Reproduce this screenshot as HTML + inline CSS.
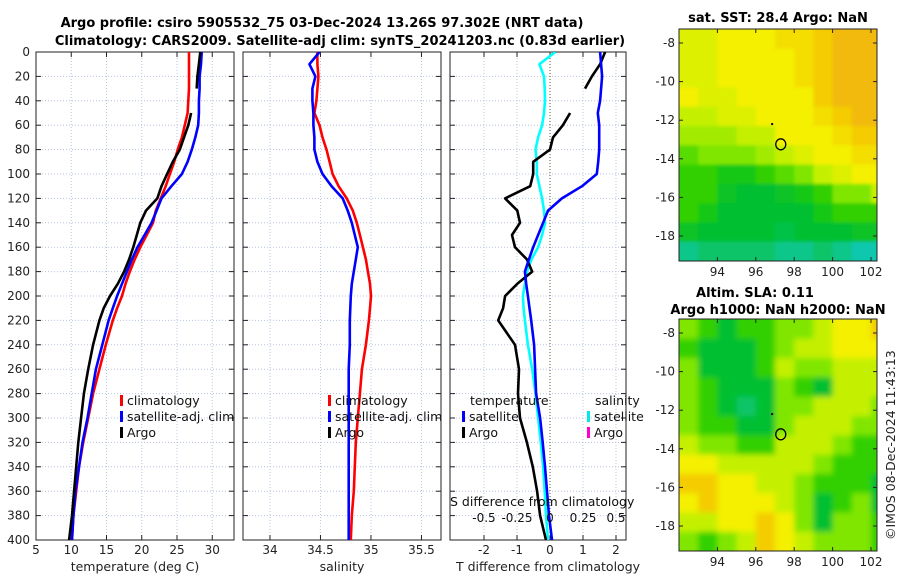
<!DOCTYPE html>
<html><head><meta charset="utf-8"><style>
body{margin:0;background:#fff}
svg{font-family:"DejaVu Sans","Liberation Sans",sans-serif;}
</style></head><body>
<svg id="c" width="900" height="580" viewBox="0 0 900 580">
<defs>
<clipPath id="cp1"><rect x="36" y="52" width="198" height="488"/></clipPath>
<clipPath id="cp2"><rect x="243" y="52" width="198" height="488"/></clipPath>
<clipPath id="cp3"><rect x="450" y="52" width="176" height="488"/></clipPath>
<clipPath id="cm1"><rect x="679" y="29" width="198" height="232"/></clipPath>
<clipPath id="cm2"><rect x="679" y="319" width="198" height="232"/></clipPath>
<filter id="bl" x="-10%" y="-10%" width="120%" height="120%"><feGaussianBlur stdDeviation="3"/></filter>
<filter id="bl1" x="-10%" y="-10%" width="120%" height="120%"><feGaussianBlur stdDeviation="1.5"/></filter>
</defs>
<text x="322" y="27" text-anchor="middle" font-size="13" font-weight="bold">Argo profile: csiro 5905532_75 03-Dec-2024 13.26S 97.302E (NRT data)</text>
<text x="340" y="45" text-anchor="middle" font-size="13" font-weight="bold">Climatology: CARS2009. Satellite-adj clim: synTS_20241203.nc (0.83d earlier)</text>
<text x="778" y="22" text-anchor="middle" font-size="13" font-weight="bold">sat. SST: 28.4 Argo: NaN</text>
<text x="755" y="297" text-anchor="middle" font-size="13" font-weight="bold">Altim. SLA: 0.11</text>
<text x="778" y="314" text-anchor="middle" font-size="13" font-weight="bold">Argo h1000: NaN h2000: NaN</text>
<text transform="translate(895,540) rotate(-90)" font-size="12.5" fill="#222">©IMOS 08-Dec-2024 11:43:13</text>
<text x="135" y="571" text-anchor="middle" font-size="12.5" fill="#222">temperature (deg C)</text>
<text x="342" y="571" text-anchor="middle" font-size="12.5" fill="#222">salinity</text>
<text x="548" y="571" text-anchor="middle" font-size="12.5" fill="#222">T difference from climatology</text>
<g id="g"></g>
</svg>
<script>
const depths=[0,10,20,30,40,50,60,70,80,90,100,110,120,130,140,150,160,170,180,190,200,210,220,240,260,280,300,320,340,360,380,400];
const climT=[26.7,26.7,26.7,26.7,26.6,26.5,26.1,25.7,25.1,24.6,24.0,23.4,22.7,22.0,21.6,20.7,19.8,19.0,18.3,17.7,17.2,16.5,15.9,14.9,14.0,13.1,12.4,11.7,11.1,10.7,10.3,10.1];
const satT=[28.5,28.4,28.2,28.2,28.1,28.1,28.0,27.6,27.1,26.5,25.7,24.2,22.8,22.1,21.4,20.4,19.4,18.6,17.9,17.2,16.5,15.9,15.3,14.4,13.5,12.9,12.3,11.6,11.1,10.6,10.3,10.1];
const argoT=[28.3,28.1,27.9,27.8,null,27.0,26.6,26.0,25.4,24.4,23.6,22.8,22.2,20.6,19.8,19.3,18.8,18.2,17.5,16.6,15.5,14.6,14.0,13.1,12.4,11.8,11.4,11.0,10.7,10.4,10.1,9.7];
const climS=[34.47,34.47,34.48,34.47,34.46,34.44,34.49,34.52,34.56,34.59,34.62,34.68,34.76,34.82,34.86,34.89,34.92,34.95,34.97,34.99,35.0,34.99,34.98,34.95,34.91,34.89,34.87,34.85,34.84,34.83,34.81,34.80];
const satS=[34.49,34.39,34.45,34.42,34.42,34.43,34.43,34.44,34.44,34.47,34.52,34.61,34.72,34.77,34.81,34.84,34.87,34.85,34.83,34.81,34.80,34.795,34.79,34.79,34.78,34.78,34.78,34.78,34.78,34.78,34.78,34.78];
const satTdiff=[1.52,1.55,1.58,1.55,1.52,1.45,1.49,1.49,1.49,1.46,1.42,0.97,0.36,-0.06,-0.21,-0.36,-0.51,-0.64,-0.76,-0.72,-0.67,-0.62,-0.57,-0.48,-0.45,-0.42,-0.30,-0.22,-0.15,-0.09,-0.03,0.06];
const argoTdiff=[1.67,1.52,1.27,1.06,null,0.61,0.39,0.09,0.0,-0.51,-0.51,-0.6,-1.36,-0.99,-0.91,-1.15,-1.06,-0.70,-0.54,-0.99,-1.36,-1.42,-1.57,-1.06,-0.94,-0.97,-0.91,-0.70,-0.52,-0.39,-0.30,-0.12];
const satSdiff=[0.04,-0.08,-0.045,-0.04,-0.038,-0.045,-0.06,-0.09,-0.11,-0.10,-0.10,-0.08,-0.06,-0.045,-0.038,-0.06,-0.09,-0.14,-0.175,-0.19,-0.205,-0.2,-0.19,-0.167,-0.135,-0.11,-0.09,-0.07,-0.052,-0.04,-0.03,-0.015];
const depthTicks=[0,20,40,60,80,100,120,140,160,180,200,220,240,260,280,300,320,340,360,380,400];
const tTicks=[5,10,15,20,25,30];
const sTicks=[34,34.5,35,35.5];
const dTicks=[-2,-1,0,1,2];
const sdTicks=[-0.5,-0.25,0,0.25,0.5];
const sdTickLabels=["-0.5","-0.25","0","0.25","0.5"];
const lonTicks=[94,96,98,100,102];
const latTicks=[-8,-10,-12,-14,-16,-18];
const sstGrid=[
[5.5,5.5,6,6,6,6.5,6.5,7,7.5,7.5,7.5],
[5.5,5.5,6,6,6,6,6.5,7,7.5,7.5,7.5],
[5.5,5.5,6,6,6,6,6.5,7,7.5,7.5,7.5],
[6,5.5,5.5,6,6,6,6,7,7.5,7.5,7.5],
[5,5,5.5,5.5,6,6,6,6.5,7,7.5,7.5],
[4.5,4.5,4.5,5,5,6,6,6,6.5,7,7],
[3.5,4,4,4,4.5,5,5.5,6,6,6.5,6.5],
[3,3,2.5,2.5,3,3.5,4,5,5.5,6,6],
[3,3,2.2,2,2,2.2,2.5,3,4,4,5],
[3,2.5,2,2,2,2,2,2.5,3,3,3],
[2.2,2,2,2,2,1.8,2,2,2,2.2,2.2],
[1.2,1.5,1.5,1.5,1.5,1.2,1.2,1.5,1.2,0.8,0.8]];
const slaGrid=[
[4,3,2,3,3,4,4,5,6,6,7],
[3,2,2,2,3,4,5,5,6,6,6],
[4,2,2,2,3,5,4,4,5,5,5],
[4,3,2,2,2,4,3,2,5,5,5],
[4,3,2,1.5,2,4,4,5,5,5,4],
[4,3,3,2,2,4,5,5,5,4,4],
[5,4,4,3,3,5,5,5,4,3,3],
[6,6,5,5,5,5,5,4,3,3,3],
[7,7,6,6,5,5,4,3,3,3,2],
[6,7,6,6,6,5,4,2,3,4,2],
[5,5,6,6,7,6,4,2,4,4,3],
[4,3,4,5,7,6,5,4,4,4,3]];
const floatPos=[97.3,-13.25];

const NS='http://www.w3.org/2000/svg';
const G=document.getElementById('g');
function mk(tag,attrs,parent){const e=document.createElementNS(NS,tag);for(const k in attrs)e.setAttribute(k,attrs[k]);(parent||G).appendChild(e);return e;}
const yD=d=>52+d*1.22;
const xT=t=>36+(t-5)*7.05;
const xS=s=>243+(s-33.733)*101;
const xD=v=>450+(v+3.03)*33;
const xSD=s=>xD(s*4);
const mx=lon=>679+(lon-92)*19.2;
const my1=lat=>43+(-8-lat)*19.3;
const my2=lat=>333+(-8-lat)*19.3;

function panel(x0,w,xs,ticks,labels,name,showLab){
  const g=mk('g',{});
  
  
  depthTicks.forEach(d=>{
    const l=mk('line',{x1:x0,x2:x0+w,y1:yD(d),y2:yD(d),stroke:'#b8c4e4','stroke-width':1,'stroke-dasharray':'1,2'},g);
    
    
    mk('line',{x1:x0,x2:x0+5,y1:yD(d),y2:yD(d),stroke:'#222'},g);
    mk('line',{x1:x0+w-5,x2:x0+w,y1:yD(d),y2:yD(d),stroke:'#222'},g);
  });
  ticks.forEach((t,i)=>{
    const x=xs(t);
    const l=mk('line',{x1:x,x2:x,y1:52,y2:540,stroke:'#b8c4e4','stroke-dasharray':'1,2'},g);
    
    
    mk('line',{x1:x,x2:x,y1:540,y2:535,stroke:'#222'},g);
    mk('line',{x1:x,x2:x,y1:52,y2:57,stroke:'#222'},g);
    if(showLab){const tx=mk('text',{x:x,y:554,'text-anchor':'middle','font-size':12,fill:'#222'},g);tx.textContent=labels[i];
    
    }
  });
  mk('rect',{x:x0,y:52,width:w,height:488,fill:'none',stroke:'#222','stroke-width':1},g);
  return g;
}
panel(36,198,xT,tTicks,tTicks.map(String),'temperature-panel',true);
panel(243,198,xS,sTicks,sTicks.map(String),'salinity-panel',true);
panel(450,176,xD,dTicks,dTicks.map(String),'difference-panel',true);

depthTicks.forEach(d=>{
  const t=mk('text',{x:30,y:yD(d)+4,'text-anchor':'end','font-size':12,fill:'#222'});
  t.textContent=d;
  
  
});

function line(vals,xs,color,clip,name,w){
  let d='',pen=false;
  vals.forEach((v,i)=>{if(v===null){pen=false;return;}d+=(pen?'L':'M')+xs(v).toFixed(1)+','+yD(depths[i]).toFixed(1);pen=true;});
  const p=mk('path',{d:d,fill:'none',stroke:color,'stroke-width':w||2.6,'stroke-linejoin':'round','clip-path':'url(#'+clip+')'});
  
  
}
line(climT,xT,'#ff0000','cp1','climatology-temperature-line');
line(satT,xT,'#0000ff','cp1','satellite-temperature-line');
line(argoT,xT,'#000','cp1','argo-temperature-line');
line(climS,xS,'#ff0000','cp2','climatology-salinity-line');
line(satS,xS,'#0000ff','cp2','satellite-salinity-line');
const zl=mk('line',{x1:xD(0),x2:xD(0),y1:52,y2:540,stroke:'#555522','stroke-width':1,'stroke-dasharray':'1,2'});


line(satSdiff,xSD,'#00ffff','cp3','satellite-salinity-diff-line');
line(argoTdiff,xD,'#000','cp3','argo-temperature-diff-line');
line(satTdiff,xD,'#0000ff','cp3','satellite-temperature-diff-line');

function txt(x,y,s,name,opt){const t=mk('text',Object.assign({x:x,y:y,'font-size':12.5,fill:'#111'},opt||{}));t.textContent=s;
  
  return t;}
function legend(x,y,color,s,name){
  const r=mk('rect',{x:x,y:y-10,width:3,height:11,fill:color});
  
  
  txt(x+7,y,s,name);
}
legend(120,405,'#ff0000','climatology','legend-climatology');
legend(120,421,'#0000ff','satellite-adj. clim','legend-satellite-adj');
legend(120,437,'#000','Argo','legend-argo');
legend(328,405,'#ff0000','climatology','legend-s-climatology');
legend(328,421,'#0000ff','satellite-adj. clim','legend-s-satellite-adj');
legend(328,437,'#000','Argo','legend-s-argo');
txt(470,405,'temperature','legend-temperature-heading');
legend(462,421,'#0000ff','satellite','legend-t-satellite');
legend(462,437,'#000','Argo','legend-t-argo');
txt(595,405,'salinity','legend-salinity-heading');
legend(587,421,'#00e8e8','satellite','legend-s-satellite');
legend(587,437,'#ff00cc','Argo','legend-s-argo-diff');
txt(450,506,'S difference from climatology','s-diff-axis-title');
sdTicks.forEach((s,i)=>{const t=txt(xSD(s),522,sdTickLabels[i],'s-diff-tick-label',{'text-anchor':'middle','font-size':12});});

const cmap=['#10c8e8','#10c8a0','#00c030','#30d000','#80e600','#c4f000','#f4f000','#f4cc00','#f0a820'];
function col(v){const i=Math.floor(v),f=v-i;if(i>=8)return cmap[8];
  const a=cmap[i],b=cmap[i+1];const h=(c,k)=>parseInt(c.substr(1+2*k,2),16);
  let o='#';for(let k=0;k<3;k++){o+=Math.round(h(a,k)+(h(b,k)-h(a,k))*f).toString(16).padStart(2,'0');}return o;}
function map(grid,my,clip,name,top,filt){
  const g=mk('g',{'clip-path':'url(#'+clip+')'});
  
  
  const inner=mk('g',{filter:'url(#'+filt+')'},g);
  grid.forEach((row,r)=>row.forEach((v,c)=>{
    const lat=-7.3-r, lon=92+c;
    let x=mx(lon), y=my(lat), w=19.7, h=19.8;
    if(c===0){x-=8;w+=8;} if(r===0){y-=8;h+=8;} if(r===grid.length-1){h+=8;} if(c===row.length-1){w+=8;}
    const e=mk('rect',{x:x,y:y,width:w,height:h,fill:col(v)},inner);
    
    
  }));
  const c=mk('ellipse',{cx:mx(floatPos[0]),cy:my(floatPos[1]),rx:5,ry:5.5,fill:'none',stroke:'#000','stroke-width':1.3},g);
  
  
  mk('rect',{x:mx(96.85)-1,y:my(-12.2)-1,width:2,height:2,fill:'#000'},g);
  const b=mk('rect',{x:679,y:top,width:198,height:232,fill:'none',stroke:'#222'});
  
  
  latTicks.forEach(l=>{const y=my(l);mk('line',{x1:679,x2:683,y1:y,y2:y,stroke:'#222'});mk('line',{x1:873,x2:877,y1:y,y2:y,stroke:'#222'});
    txt(675,y+4,String(l),'map-lat-tick-label',{'text-anchor':'end','font-size':12,fill:'#222'});});
  lonTicks.forEach(l=>{const x=mx(l);mk('line',{x1:x,x2:x,y1:top+232,y2:top+228,stroke:'#222'});mk('line',{x1:x,x2:x,y1:top,y2:top+4,stroke:'#222'});
    txt(x,top+247,String(l),'map-lon-tick-label',{'text-anchor':'middle','font-size':12,fill:'#222'});});
}
map(sstGrid,my1,'cm1','sst-map',29,'bl1');
map(slaGrid,my2,'cm2','sla-map',319,'bl');
</script>
</body></html>
